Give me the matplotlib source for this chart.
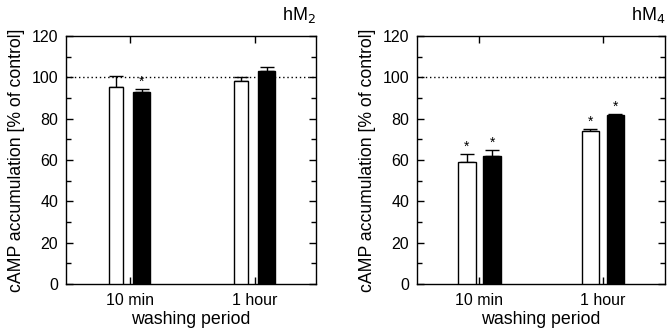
import matplotlib
matplotlib.use("Agg")
import matplotlib.pyplot as plt
from matplotlib.ticker import MultipleLocator
import numpy as np

plt.rcParams['font.family'] = ['Liberation Sans', 'DejaVu Sans']

categories = ["10 min", "1 hour"]
panel_titles = ["hM$_2$", "hM$_4$"]

m2_open = [95.5, 98.3]
m2_open_err = [5.2, 1.8]
m2_filled = [92.8, 103.0]
m2_filled_err = [1.5, 2.1]
m2_open_sig = [False, False]
m2_filled_sig = [True, False]

m4_open = [59.2, 74.0]
m4_open_err = [3.7, 1.0]
m4_filled = [62.0, 81.8]
m4_filled_err = [2.8, 0.5]
m4_open_sig = [True, True]
m4_filled_sig = [True, True]

y_ticks = [0, 20, 40, 60, 80, 100, 120]
control_level = 100

fig = plt.figure(figsize=(6.72, 3.34), dpi=100)
ax1 = fig.add_axes([66/672, 50/334, 250/672, 248/334])
ax2 = fig.add_axes([417/672, 50/334, 248/672, 248/334])

panels = [
    (ax1, m2_open, m2_open_err, m2_filled, m2_filled_err, m2_open_sig, m2_filled_sig,
     (-0.512, 1.488), (-0.11, 0.112), (0.092, 0.14)),
    (ax2, m4_open, m4_open_err, m4_filled, m4_filled_err, m4_open_sig, m4_filled_sig,
     (-0.505, 1.505), (-0.10, 0.14), (0.103, 0.14)),
]

x = np.arange(len(categories))
for i, (ax, ov, oe, fv, fe, osig, fsig, xl, (oo, ow), (fo, fw)) in enumerate(panels):
    ax.axhline(control_level, color='black', linestyle=(0, (1, 2)), lw=1.0, zorder=1)
    ax.bar(x + oo, ov, width=ow, color='white', edgecolor='black', lw=1.0, zorder=3)
    ax.bar(x + fo, fv, width=fw, color='black', edgecolor='black', lw=1.0, zorder=3)
    ax.errorbar(x + oo, ov, yerr=[np.zeros(len(ov)), oe], fmt='none', ecolor='black',
                elinewidth=1.0, capsize=5, capthick=1.0, zorder=2)
    ax.errorbar(x + fo, fv, yerr=[np.zeros(len(fv)), fe], fmt='none', ecolor='black',
                elinewidth=1.0, capsize=5, capthick=1.0, zorder=2)
    for j in range(len(categories)):
        if osig[j]:
            ax.text(x[j] + oo, ov[j] + oe[j] + 0.0, '*', ha='center', va='bottom', fontsize=10)
        if fsig[j]:
            ax.text(x[j] + fo, fv[j] + fe[j] + 0.0, '*', ha='center', va='bottom', fontsize=10)
    ax.set_xlim(*xl)
    ax.set_ylim(0, 120)
    ax.set_xticks(x)
    ax.set_xticklabels(categories, fontsize=11.5)
    ax.set_yticks(y_ticks)
    ax.set_yticklabels([str(t) for t in y_ticks], fontsize=11.5)
    ax.yaxis.set_minor_locator(MultipleLocator(10))
    ax.tick_params(which='both', direction='in', top=True, right=True, width=1.0)
    ax.tick_params(which='major', length=5)
    ax.tick_params(axis='y', which='major', pad=5.5)
    ax.tick_params(axis='x', which='major', pad=6.5)
    ax.tick_params(which='minor', length=3.5)
    ax.tick_params(axis='x', which='minor', top=False, bottom=False)
    for s in ax.spines.values():
        s.set_linewidth(1.0)
    ax.set_xlabel('washing period', fontsize=12.8, labelpad=2.5)
    ax.set_ylabel('cAMP accumulation [% of control]', fontsize=12.7, labelpad=5)
    ax.text(1.0, 1.045, panel_titles[i], transform=ax.transAxes, ha='right', va='bottom', fontsize=13)

fig.savefig('out.png', dpi=100)
